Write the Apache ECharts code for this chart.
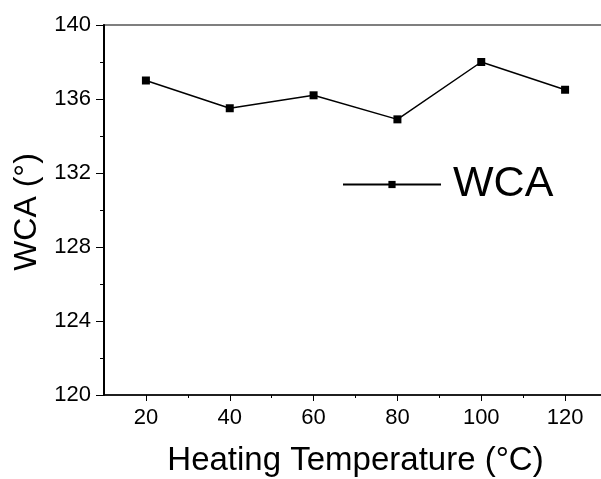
<!DOCTYPE html>
<html>
<head>
<meta charset="utf-8">
<script src="https://cdn.jsdelivr.net/npm/echarts@6/dist/echarts.min.js"></script>
<style>
  html, body { margin: 0; padding: 0; background: #fff; }
  #chart { width: 601px; height: 479px; }
</style>
</head>
<body>
<div id="chart"></div>
<script>
// heating temperature (°C)
const temps = [20, 40, 60, 80, 100, 120]
// water contact angle (°)
const wca = [137.0, 135.5, 136.2, 134.9, 138.0, 136.5]
// x tick positions
const xMajor = [20, 40, 60, 80, 100, 120]
const xMinor = [30, 50, 70, 90, 110, 130]

const font = 'Liberation Sans, Arial, sans-serif'

const chart = echarts.init(document.getElementById('chart'))

chart.setOption({
  animation: false,
  grid: {
    left: 104,
    top: 25,
    width: 503,
    height: 370,
    outerBoundsMode: 'none',
    show: true,
    borderColor: '#555',
    borderWidth: 1.5,
  },
  legend: {
    data: ['WCA'],
    left: 337,
    top: 158,
    itemWidth: 98,
    itemHeight: 9,
    textStyle: {
      fontFamily: font,
      fontSize: 43,
      color: '#000',
      padding: [0, 0, 0, 7],
    },
  },
  xAxis: [
    {
      type: 'value',
      min: 10,
      max: 130,
      splitLine: { show: false },
      axisLine: { lineStyle: { color: '#000', width: 1.5 } },
      axisTick: { customValues: xMajor, length: 6, lineStyle: { color: '#000' } },
      axisLabel: {
        customValues: xMajor,
        color: '#000',
        fontFamily: font,
        fontSize: 22,
        margin: 12,
      },
      name: 'Heating Temperature (°C)',
      nameLocation: 'middle',
      nameGap: 49,
      nameTextStyle: { fontFamily: font, fontSize: 33, color: '#000' },
    },
    {
      type: 'value',
      position: 'bottom',
      min: 10,
      max: 130,
      splitLine: { show: false },
      axisLine: { show: false },
      axisTick: { customValues: xMinor, length: 3, lineStyle: { color: '#000' } },
      axisLabel: { show: false },
    },
  ],
  yAxis: {
    type: 'value',
    min: 120,
    max: 140,
    interval: 4,
    splitLine: { show: false },
    axisLine: { show: true, lineStyle: { color: '#000', width: 2 } },
    axisTick: { show: true, length: 8, lineStyle: { color: '#000' } },
    minorTick: { show: true, splitNumber: 2, length: 4, lineStyle: { color: '#000' } },
    axisLabel: { color: '#000', fontFamily: font, fontSize: 22, margin: 13 },
    name: 'WCA (°)',
    nameLocation: 'middle',
    nameGap: 57,
    nameTextStyle: { fontFamily: font, fontSize: 32, color: '#000', padding: [0, 4, 0, 0] },
  },
  series: [
    {
      name: 'WCA',
      type: 'line',
      data: temps.map((t, i) => [t, wca[i]]),
      symbol: 'rect',
      symbolSize: 8,
      itemStyle: { color: '#000' },
      lineStyle: { color: '#000', width: 1.5 },
    },
  ],
})
</script>
</body>
</html>
